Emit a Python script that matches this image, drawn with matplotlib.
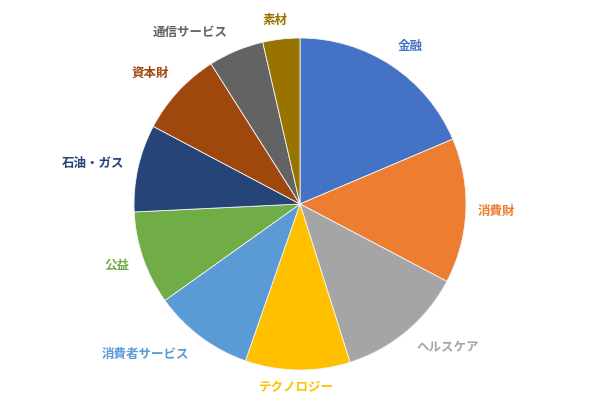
import matplotlib
matplotlib.use("Agg")
import matplotlib.pyplot as plt
import numpy as np

plt.rcParams['font.family'] = ['Noto Sans CJK JP', 'DejaVu Sans']

categories = ["金融", "消費財", "ヘルスケア", "テクノロジー", "消費者サービス",
              "公益", "石油・ガス", "資本財", "通信サービス", "素材"]
values = [18.6, 14.1, 12.4, 10.2, 9.8, 9.1, 8.5, 8.25, 5.4, 3.6]

colors = ["#4472C4", "#ED7D31", "#A5A5A5", "#FFC000", "#5B9BD5",
          "#70AD47", "#264478", "#9E480E", "#636363", "#997300"]
# label layout: (distance in radii, clockwise angle from top in degrees)
label_layout = [(1.155, 35.0), (1.187, 92.3), (1.24, 134.3), (1.108, 181.2),
                (1.30, 225.7), (1.16, 251.5), (1.27, 281.2), (1.20, 311.1),
                (1.23, 327.4), (1.114, 352.2)]

fig = plt.figure(figsize=(6.0, 4.09), dpi=100)
ax = fig.add_axes([134/600, 39/409, 332/600, 332/409])
wedges, _ = ax.pie(values, colors=colors, startangle=90, counterclock=False,
                   radius=1.0, wedgeprops=dict(linewidth=0.6, edgecolor="#f4f4f4"))
ax.set_xlim(-1, 1)
ax.set_ylim(-1, 1)
ax.set_aspect('equal')
ax.axis('off')

for lab, col, (d, a) in zip(categories, colors, label_layout):
    r = np.deg2rad(a)
    ax.text(d*np.sin(r), d*np.cos(r), lab, color=col, fontsize=9,
            fontweight='bold', ha='center', va='center', clip_on=False)

fig.savefig("out.png", dpi=100)
